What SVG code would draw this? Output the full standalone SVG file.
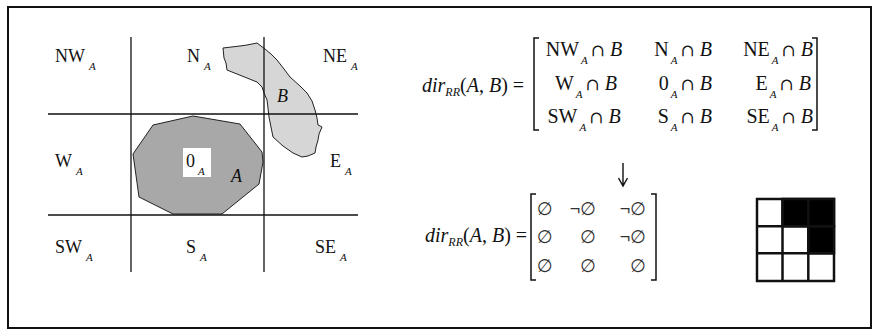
<svg xmlns="http://www.w3.org/2000/svg" width="874" height="333" viewBox="0 0 874 333">
<style>
.t{font-family:"Liberation Serif","Times New Roman",serif;font-size:18px;fill:#111}
.m{font-family:"Liberation Serif","Times New Roman",serif;font-size:20px;fill:#111}
.s{font-size:11px;font-style:italic}
.r{font-size:12px;font-style:italic}
.i{font-style:italic}
.c{font-family:"DejaVu Serif",serif;font-size:17px}
.e{font-family:"DejaVu Sans",sans-serif;font-size:18px;fill:#333}
.n{font-family:"Liberation Sans",Arial,sans-serif}
.ln{stroke:#111;stroke-width:1.3;fill:none}
.br{stroke:#111;stroke-width:1.5;fill:none}
</style>
<rect x="8" y="7" width="863" height="321" fill="#fff" stroke="#111" stroke-width="2"/>

<g id="regions">
  <polygon id="A" points="193,116 240,124 262,152 263,162 259,184 222,214 173,214 139,197 133,154 153,125" fill="#a8a8a8" stroke="#222" stroke-width="1"/>
  <polygon id="B" points="223,48 240,46 247,45 257,43 265,49 271,54 277,60 284,69 290,77 300,86 307,93 312,101 315,110 317,118 318,125 322,127 319,134 318,140 316,147 315,153 308,156 302,157 293,153 283,146 273,137 271,127 269,117 268,108 267,100 264,93 262,87 257,82 242,76 227,70 226,63 224,58" fill="#d6d6d6" stroke="#222" stroke-width="1"/>
  <rect x="183" y="148" width="28" height="29" fill="#fff"/>
</g>

<g id="grid-lines">
  <line class="ln" x1="131" y1="37" x2="131" y2="272"/>
  <line class="ln" x1="264" y1="37" x2="264" y2="272"/>
  <line class="ln" x1="48" y1="114" x2="358" y2="114"/>
  <line class="ln" x1="48" y1="215" x2="358" y2="215"/>
</g>

<g id="labels" class="t">
  <text x="55" y="62">NW<tspan class="s" dx="4" dy="8">A</tspan></text>
  <text x="187" y="62">N<tspan class="s" dx="4" dy="8">A</tspan></text>
  <text x="323" y="62">NE<tspan class="s" dx="4" dy="8">A</tspan></text>
  <text x="55" y="167">W<tspan class="s" dx="4" dy="8">A</tspan></text>
  <text x="186" y="167">0<tspan class="s" dx="3" dy="8">A</tspan></text>
  <text x="330" y="167">E<tspan class="s" dx="4" dy="8">A</tspan></text>
  <text x="55" y="253">SW<tspan class="s" dx="4" dy="8">A</tspan></text>
  <text x="186" y="253">S<tspan class="s" dx="4" dy="8">A</tspan></text>
  <text x="315" y="253">SE<tspan class="s" dx="4" dy="8">A</tspan></text>
  <text class="i" x="231" y="182">A</text>
  <text class="i" x="277" y="102">B</text>
</g>

<g id="formula1" class="m">
  <text x="422" y="92"><tspan class="i">dir</tspan><tspan class="r" dy="4">RR</tspan><tspan dy="-4">(</tspan><tspan class="i">A</tspan>, <tspan class="i">B</tspan>) =</text>
  <path class="br" d="M539,38 h-5 v92 h5"/>
  <path class="br" d="M812,38 h5 v92 h-5"/>
  <text x="584" y="56" text-anchor="middle">NW<tspan class="s" dx="2" dy="8">A</tspan><tspan class="c" dx="3" dy="-8">∩</tspan> <tspan class="i">B</tspan></text>
  <text x="712" y="56" text-anchor="end">N<tspan class="s" dx="2" dy="8">A</tspan><tspan class="c" dx="3" dy="-8">∩</tspan> <tspan class="i">B</tspan></text>
  <text x="813" y="56" text-anchor="end">NE<tspan class="s" dx="2" dy="8">A</tspan><tspan class="c" dx="3" dy="-8">∩</tspan> <tspan class="i">B</tspan></text>
  <text x="586" y="90" text-anchor="middle">W<tspan class="s" dx="2" dy="8">A</tspan><tspan class="c" dx="3" dy="-8">∩</tspan> <tspan class="i">B</tspan></text>
  <text x="712" y="90" text-anchor="end">0<tspan class="s" dx="2" dy="8">A</tspan><tspan class="c" dx="3" dy="-8">∩</tspan> <tspan class="i">B</tspan></text>
  <text x="811" y="90" text-anchor="end">E<tspan class="s" dx="2" dy="8">A</tspan><tspan class="c" dx="3" dy="-8">∩</tspan> <tspan class="i">B</tspan></text>
  <text x="584" y="123" text-anchor="middle">SW<tspan class="s" dx="2" dy="8">A</tspan><tspan class="c" dx="3" dy="-8">∩</tspan> <tspan class="i">B</tspan></text>
  <text x="712" y="123" text-anchor="end">S<tspan class="s" dx="2" dy="8">A</tspan><tspan class="c" dx="3" dy="-8">∩</tspan> <tspan class="i">B</tspan></text>
  <text x="813" y="123" text-anchor="end">SE<tspan class="s" dx="2" dy="8">A</tspan><tspan class="c" dx="3" dy="-8">∩</tspan> <tspan class="i">B</tspan></text>
</g>

<g id="arrow">
  <path d="M623,163 V185 M618.5,178 L623,186 L627.5,178" fill="none" stroke="#111" stroke-width="1.4"/>
</g>

<g id="formula2">
  <text class="m" x="425" y="242"><tspan class="i">dir</tspan><tspan class="r" dy="4">RR</tspan><tspan dy="-4">(</tspan><tspan class="i">A</tspan>, <tspan class="i">B</tspan>) =</text>
  <path class="br" d="M536,194 h-5 v86 h5"/>
  <path class="br" d="M651,194 h5 v86 h-5"/>
  <g class="e">
    <text x="537" y="215">∅</text>
    <text x="596" y="215" text-anchor="end"><tspan class="n">¬</tspan>∅</text>
    <text x="646" y="215" text-anchor="end"><tspan class="n">¬</tspan>∅</text>
    <text x="537" y="243">∅</text>
    <text x="596" y="243" text-anchor="end">∅</text>
    <text x="646" y="243" text-anchor="end"><tspan class="n">¬</tspan>∅</text>
    <text x="537" y="272">∅</text>
    <text x="596" y="272" text-anchor="end">∅</text>
    <text x="646" y="272" text-anchor="end">∅</text>
  </g>
</g>

<g id="grid-icon" stroke="#111" stroke-width="2.5">
  <rect x="757" y="199" width="77" height="82" fill="#fff"/>
  <rect x="782.5" y="199" width="51.5" height="27.3" fill="#000"/>
  <rect x="808.3" y="226.3" width="25.7" height="27" fill="#000"/>
  <line x1="782.5" y1="199" x2="782.5" y2="281"/>
  <line x1="808.3" y1="199" x2="808.3" y2="281"/>
  <line x1="757" y1="226.3" x2="834" y2="226.3"/>
  <line x1="757" y1="253.3" x2="834" y2="253.3"/>
</g>
</svg>
